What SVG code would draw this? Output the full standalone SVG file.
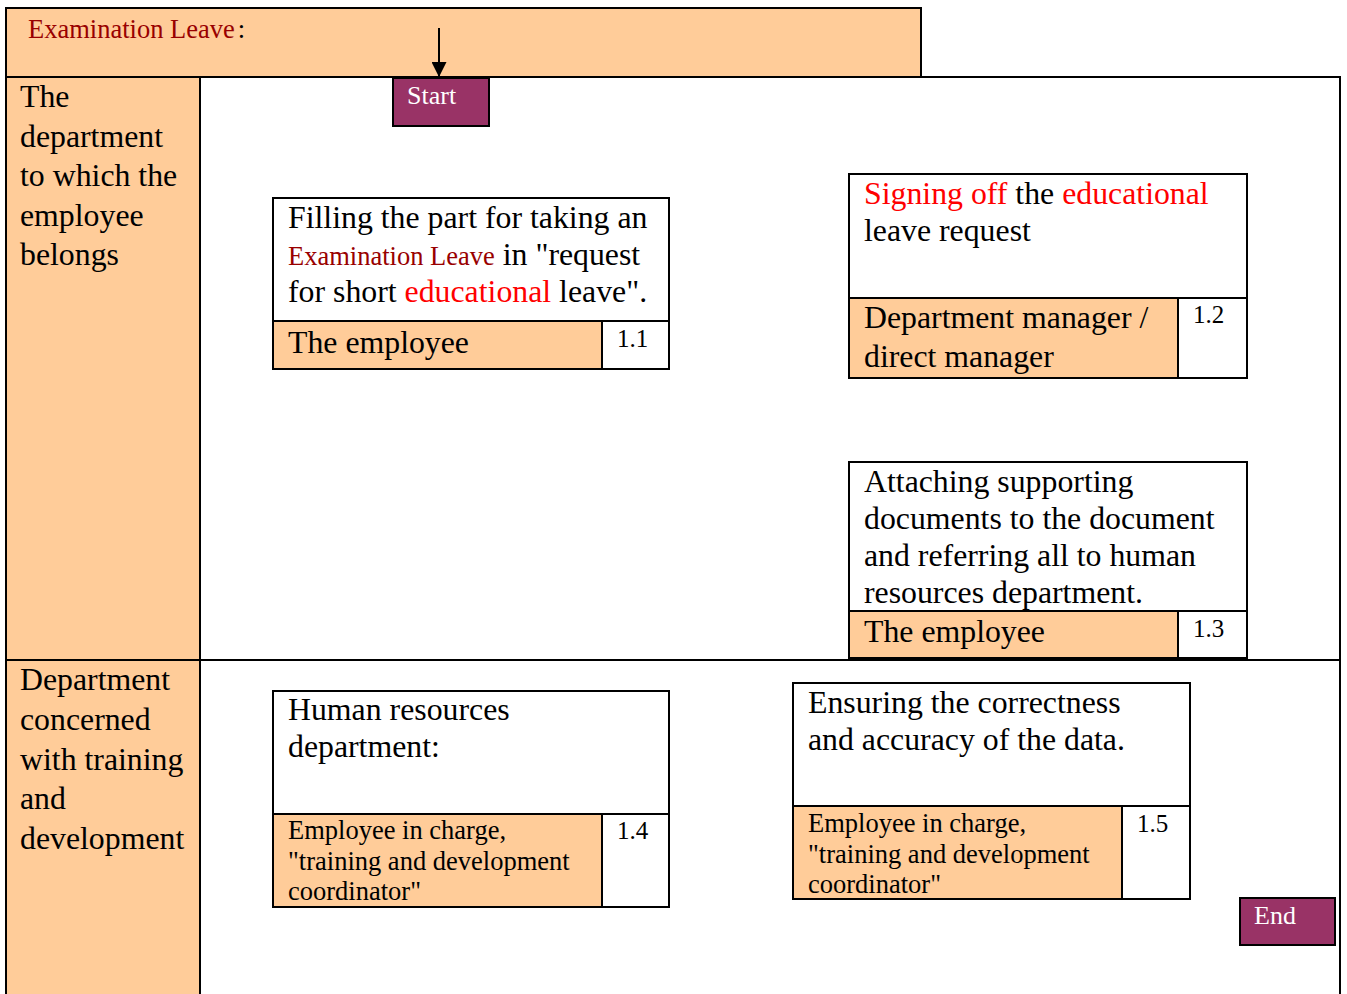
<svg xmlns="http://www.w3.org/2000/svg" width="1347" height="994" viewBox="0 0 1347 994">
<defs>
<style>
text{font-family:"Liberation Serif","Times New Roman",serif;fill:#000}
.peach{fill:#FFCC99;stroke:#000;stroke-width:2}
.white{fill:#fff;stroke:#000;stroke-width:2}
.term{fill:#993366;stroke:#000;stroke-width:2}
.line{stroke:#000;stroke-width:2;fill:none}
.t28{font-size:31.8px}
.t24{font-size:26.5px}
.t22{font-size:25px}
.dred{fill:#990000;font-size:26.5px}
.red{fill:#FF0000}
.wt{fill:#fff;font-size:26px}
</style>
<marker id="arr" viewBox="0 0 10 10" refX="10" refY="5" markerWidth="15" markerHeight="15" markerUnits="userSpaceOnUse" orient="auto">
<path d="M0,0 L10,5 L0,10 z" fill="#000"/>
</marker>
</defs>
<rect width="1347" height="994" fill="#fff"/>
<g id="header">
<rect class="peach" x="6" y="8" width="915" height="69"/>
<text class="dred" x="28" y="38">Examination Leave<tspan fill="#000" dx="3">:</tspan></text>
</g>
<g id="frame">
<path class="line" d="M921,77 H1340 V994"/>
<rect class="peach" x="6" y="77" width="194" height="940"/>
<path class="line" d="M6,660 H1340"/>
</g>
<g id="lane1">
<text class="t28" x="20"><tspan x="20" y="107">The</tspan><tspan x="20" y="147">department</tspan><tspan x="20" y="186">to which the</tspan><tspan x="20" y="226">employee</tspan><tspan x="20" y="265">belongs</tspan></text>
</g>
<g id="lane2">
<text class="t28" x="20"><tspan x="20" y="690">Department</tspan><tspan x="20" y="730">concerned</tspan><tspan x="20" y="770">with training</tspan><tspan x="20" y="809">and</tspan><tspan x="20" y="849">development</tspan></text>
</g>
<g id="connectors">
<line class="line" x1="439" y1="28" x2="439" y2="77" stroke-width="2.5" marker-end="url(#arr)"/>
</g>
<g id="start">
<rect class="term" x="393" y="78" width="96" height="48"/>
<text class="wt" x="407" y="104">Start</text>
</g>
<g id="step1-1">
<rect class="white" x="273" y="198" width="396" height="171"/>
<rect class="peach" x="273" y="321" width="329" height="48"/>
<rect class="white" x="602" y="321" width="67" height="48"/>
<text class="t28" x="288" y="228">Filling the part for taking an</text>
<text class="t28" x="288" y="265"><tspan class="dred">Examination Leave</tspan> in "request</text>
<text class="t28" x="288" y="302">for short <tspan class="red">educational</tspan> leave".</text>
<text class="t28" x="288" y="353">The employee</text>
<text class="t22" x="617" y="347">1.1</text>
</g>
<g id="step1-2">
<rect class="white" x="849" y="174" width="398" height="204"/>
<rect class="peach" x="849" y="298" width="329" height="80"/>
<rect class="white" x="1178" y="298" width="69" height="80"/>
<text class="t28" x="864" y="204"><tspan class="red">Signing off</tspan> the <tspan class="red">educational</tspan></text>
<text class="t28" x="864" y="241">leave request</text>
<text class="t28" x="864" y="328">Department manager /</text>
<text class="t28" x="864" y="367">direct manager</text>
<text class="t22" x="1193" y="323">1.2</text>
</g>
<g id="step1-3">
<rect class="white" x="849" y="462" width="398" height="196"/>
<rect class="peach" x="849" y="611" width="329" height="47"/>
<rect class="white" x="1178" y="611" width="69" height="47"/>
<text class="t28" x="864" y="492">Attaching supporting</text>
<text class="t28" x="864" y="529">documents to the document</text>
<text class="t28" x="864" y="566">and referring all to human</text>
<text class="t28" x="864" y="603">resources department.</text>
<text class="t28" x="864" y="642">The employee</text>
<text class="t22" x="1193" y="637">1.3</text>
</g>
<g id="step1-4">
<rect class="white" x="273" y="691" width="396" height="216"/>
<rect class="peach" x="273" y="814" width="329" height="93"/>
<rect class="white" x="602" y="814" width="67" height="93"/>
<text class="t28" x="288" y="720">Human resources</text>
<text class="t28" x="288" y="757">department:</text>
<text class="t24" x="288" y="839">Employee in charge,</text>
<text class="t24" x="288" y="870">"training and development</text>
<text class="t24" x="288" y="900">coordinator"</text>
<text class="t22" x="617" y="839">1.4</text>
</g>
<g id="step1-5">
<rect class="white" x="793" y="683" width="397" height="216"/>
<rect class="peach" x="793" y="806" width="329" height="93"/>
<rect class="white" x="1122" y="806" width="68" height="93"/>
<text class="t28" x="808" y="713">Ensuring the correctness</text>
<text class="t28" x="808" y="750">and accuracy of the data.</text>
<text class="t24" x="808" y="832">Employee in charge,</text>
<text class="t24" x="808" y="863">"training and development</text>
<text class="t24" x="808" y="893">coordinator"</text>
<text class="t22" x="1137" y="832">1.5</text>
</g>
<g id="end">
<rect class="term" x="1240" y="898" width="95" height="47"/>
<text class="wt" x="1254" y="924">End</text>
</g>
</svg>
